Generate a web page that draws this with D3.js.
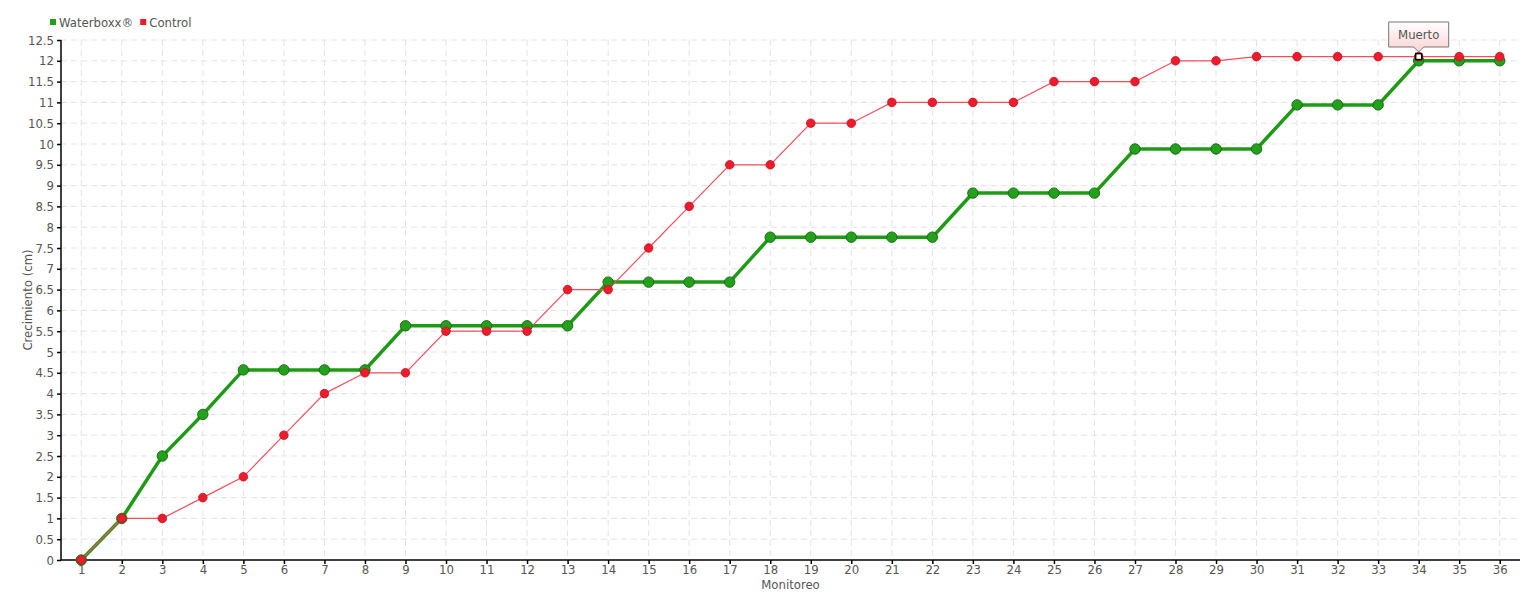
<!DOCTYPE html>
<html><head><meta charset="utf-8">
<script src="https://cdn.jsdelivr.net/npm/d3@7"></script>
<style>
body{margin:0;background:#fff;}
text{font-family:"DejaVu Sans Condensed","DejaVu Sans",sans-serif;font-stretch:condensed;}
</style></head><body>
<svg id="chart" width="1540" height="600"></svg>
<script>
const categories = d3.range(1, 37).map(String);
const waterboxx = [0,1,2.5,3.5,4.57,4.57,4.57,4.57,5.63,5.63,5.63,5.63,5.63,6.68,6.68,6.68,6.68,7.76,7.76,7.76,7.76,7.76,8.82,8.82,8.82,8.82,9.88,9.88,9.88,9.88,10.94,10.94,10.94,12,12,12];
const control = [0,1,1,1.5,2,3,4,4.5,4.5,5.5,5.5,5.5,6.5,6.5,7.5,8.5,9.5,9.5,10.5,10.5,11,11,11,11,11.5,11.5,11.5,12,12,12.1,12.1,12.1,12.1,12.1,12.1,12.1];
const yTicks = d3.range(0, 12.51, 0.5);
const seriesNames = ["Waterboxx®", "Control"];
const annotation = {series: "Control", index: 33, label: "Muerto"};

const svg = d3.select("#chart");
const m = {l:61, r:20, t:40, b:40};
const W = 1540, H = 600;
const FS = "13px";
const x = d3.scalePoint().domain(categories).range([m.l, W - m.r]).padding(0.5);
const y = d3.scaleLinear().domain([0, 12.5]).range([H - m.b, m.t]);

// grid
const g = svg.append("g");
g.selectAll(".hg").data(yTicks.slice(1)).join("line")
  .attr("x1", m.l).attr("x2", W - m.r).attr("y1", d => y(d)).attr("y2", d => y(d))
  .attr("stroke", "#e3e3e3").attr("stroke-dasharray", "6,4");
g.selectAll(".vg").data(categories).join("line")
  .attr("x1", d => x(d)).attr("x2", d => x(d)).attr("y1", m.t).attr("y2", H - m.b)
  .attr("stroke", "#e3e3e3").attr("stroke-dasharray", "6,4");

// axes
const fmt = d => String(d);
const yAxis = svg.append("g").attr("transform", `translate(${m.l},0)`)
  .call(d3.axisLeft(y).tickValues(yTicks).tickFormat(fmt).tickSize(4).tickPadding(3));
const xAxis = svg.append("g").attr("transform", `translate(0,${H - m.b})`)
  .call(d3.axisBottom(x).tickSize(4).tickPadding(1));
[yAxis, xAxis].forEach(a => {
  a.select(".domain").attr("stroke", "#000").attr("stroke-width", 1.5);
  a.selectAll(".tick line").attr("stroke", "#000").attr("stroke-width", 1.5);
  a.selectAll("text").attr("fill", "#555").style("font-size", FS);
});
xAxis.select(".domain").attr("d", `M${m.l},0H${W - m.r}`);
yAxis.select(".domain").attr("d", `M0,${m.t}V${H - m.b}`);

svg.append("text").attr("transform", `translate(32,${(m.t + H - m.b)/2}) rotate(-90)`)
  .attr("text-anchor", "middle").attr("fill", "#555").style("font-size", FS).text("Crecimiento (cm)");
svg.append("text").attr("x", (m.l + W - m.r)/2).attr("y", 589)
  .attr("text-anchor", "middle").attr("fill", "#555").style("font-size", FS).text("Monitoreo");

const line = d3.line().x((d, i) => x(categories[i])).y(d => y(d));

// Waterboxx
svg.append("path").datum(waterboxx).attr("d", line).attr("fill", "none")
  .attr("stroke", "#1f9a14").attr("stroke-width", 3.5);
// Control line
svg.append("path").datum(control).attr("d", line).attr("fill", "none")
  .attr("stroke", "#f0505e").attr("stroke-width", 1.2);
svg.selectAll(".pw").data(waterboxx).join("circle")
  .attr("cx", (d, i) => x(categories[i])).attr("cy", d => y(d)).attr("r", 5.2)
  .attr("fill", "#23a01c").attr("stroke", "#1a6e14").attr("stroke-width", 1);
svg.selectAll(".pc").data(control).join("circle")
  .attr("cx", (d, i) => x(categories[i])).attr("cy", d => y(d)).attr("r", 4.3)
  .attr("fill", "#ec1c2c").attr("stroke", "#c8101e").attr("stroke-width", 0.8);

// legend
const leg = svg.append("g").attr("transform", "translate(50,22)");
const legColors = ["#23a01c", "#ec1c2c"];
let lx = 0;
seriesNames.forEach((n, i) => {
  leg.append("rect").attr("x", lx).attr("y", -3).attr("width", 6).attr("height", 6).attr("fill", legColors[i]);
  const t = leg.append("text").attr("x", lx + 9).attr("y", 5).attr("fill", "#555").style("font-size", FS).text(n);
  lx += 9 + t.node().getComputedTextLength() + 7;
});

// annotation
const ax = x(categories[annotation.index]), ay = y(control[annotation.index]);
const defs = svg.append("defs");
const grad = defs.append("linearGradient").attr("id", "tipg").attr("x1", 0).attr("y1", 0).attr("x2", 0).attr("y2", 1);
grad.append("stop").attr("offset", "0%").attr("stop-color", "#ffffff");
grad.append("stop").attr("offset", "100%").attr("stop-color", "#fbd2d2");
const bw = 60, bh = 25, bx = ax - 30, by = 22;
svg.append("path").attr("d",
  `M${bx},${by}H${bx+bw}V${by+bh}H${ax+5}L${ax},${by+bh+5}L${ax-5},${by+bh}H${bx}Z`)
  .attr("fill", "url(#tipg)").attr("stroke", "#777").attr("stroke-width", 1);
svg.append("text").attr("x", ax).attr("y", by + 17).attr("text-anchor", "middle")
  .attr("fill", "#555").style("font-size", FS).text(annotation.label);
svg.append("rect").attr("x", ax - 3).attr("y", ay - 3).attr("width", 6).attr("height", 6)
  .attr("fill", "#fff").attr("stroke", "#000").attr("stroke-width", 1.5);
</script></body></html>
